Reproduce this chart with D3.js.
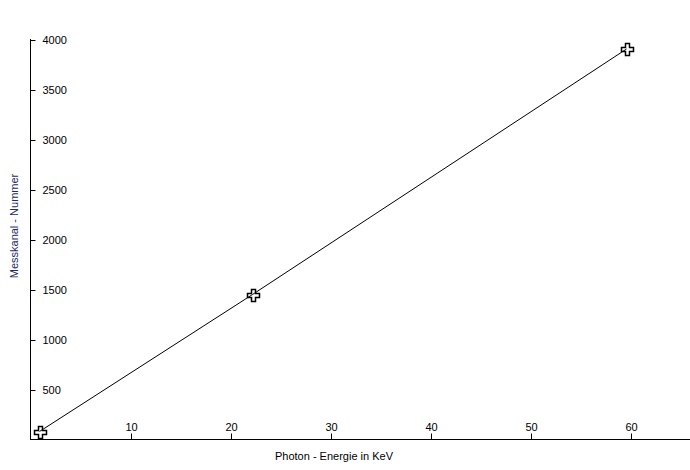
<!DOCTYPE html>
<html><head><meta charset="utf-8">
<script src="https://cdn.jsdelivr.net/npm/d3@7"></script>
<style>body{margin:0;background:#fff}svg{display:block}text{font-family:"Liberation Sans",Arial,sans-serif}</style>
</head><body>
<svg id="c" width="690" height="470"></svg>
<script>
const energy = [0.9, 22.2, 59.6];
const channel = [80, 1450, 3905];
const xTicks = [10, 20, 30, 40, 50, 60];
const yTicks = [500, 1000, 1500, 2000, 2500, 3000, 3500, 4000];
const xTitle = "Photon - Energie in KeV";
const yTitle = "Messkanal - Nummer";

const svg = d3.select("#c");
const x = d3.scaleLinear().domain([0, 66]).range([30.5, 690.5]);
const y = d3.scaleLinear().domain([0, 4000]).range([439.5, 39.5]);

// axes
const gx = svg.append("g").attr("transform", "translate(0,439.5)");
gx.append("line").attr("x1", 30).attr("x2", 690).attr("stroke", "#000");
gx.selectAll("g.t").data(xTicks).enter().append("g").attr("class","t")
  .attr("transform", d => `translate(${Math.round(x(d))+0.5},0)`)
  .each(function(d){
    const g = d3.select(this);
    g.append("line").attr("y1", 0).attr("y2", -6).attr("stroke", "#000");
    g.append("text").attr("y", -9).attr("text-anchor","middle").attr("font-size","11px").text(d);
  });

const gy = svg.append("g").attr("transform", "translate(30.5,0)");
gy.append("line").attr("y1", 39).attr("y2", 440).attr("stroke", "#000");
gy.selectAll("g.t").data(yTicks).enter().append("g").attr("class","t")
  .attr("transform", d => `translate(0,${Math.round(y(d))+0.5})`)
  .each(function(d){
    const g = d3.select(this);
    g.append("line").attr("x1", 0).attr("x2", 5).attr("stroke", "#000");
    g.append("text").attr("x", 12).attr("dy", "0.35em").attr("font-size","11px").text(d);
  });

// titles
svg.append("text").attr("x", 334).attr("y", 460).attr("text-anchor","middle")
  .attr("font-size","11px").attr("fill","#000").text(xTitle);
svg.append("text").attr("transform","translate(18,226) rotate(-90)").attr("text-anchor","middle")
  .attr("font-size","11px").attr("fill","#1a2a6e").text(yTitle);

// line
const pts = energy.map((e,i)=>[e, channel[i]]);
svg.append("path").datum(pts)
  .attr("d", d3.line().x(d=>x(d[0])).y(d=>y(d[1])))
  .attr("fill","none").attr("stroke","#000").attr("stroke-width",1);

// hollow cross markers
const cross = "M-2,-6H2V-2H6V2H2V6H-2V2H-6V-2H-2Z";
svg.selectAll("path.m").data(pts).enter().append("path").attr("class","m")
  .attr("transform", d => `translate(${Math.round(x(d[0]))+0.5},${Math.round(y(d[1]))+0.5})`)
  .attr("d", cross).attr("fill","none").attr("stroke","#000").attr("stroke-width",1.5);
</script>
</body></html>
